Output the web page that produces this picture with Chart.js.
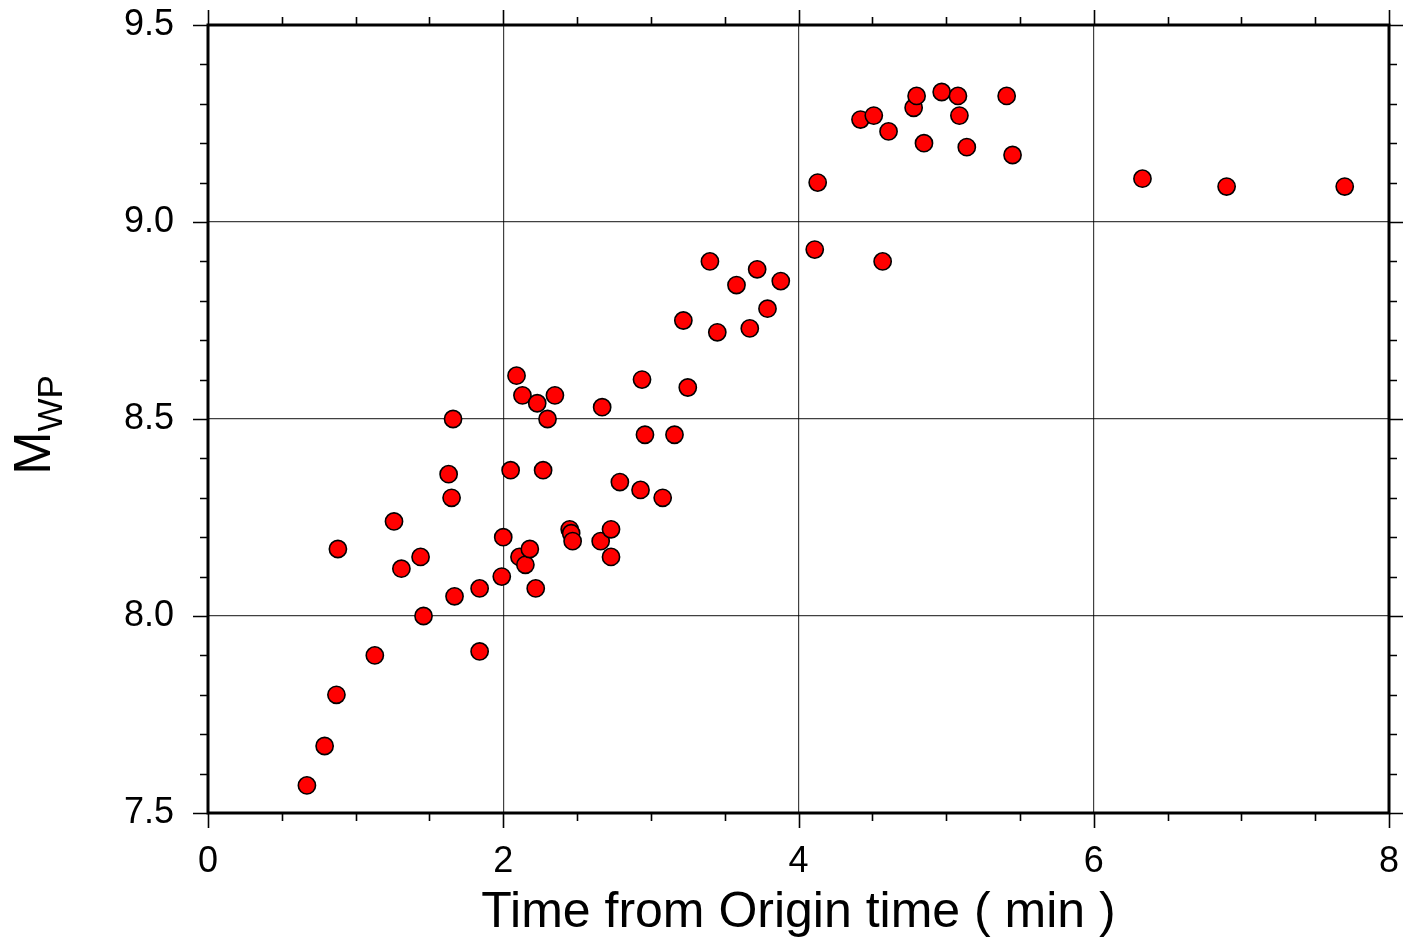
<!DOCTYPE html>
<html>
<head>
<meta charset="utf-8">
<script src="https://cdn.jsdelivr.net/npm/chart.js@4.4.1/dist/chart.umd.min.js"></script>
<style>
  html, body { margin: 0; padding: 0; background: #fff; }
  #wrap { width: 1403px; height: 940px; }
</style>
</head>
<body>
<div id="wrap"><canvas id="c" width="1403" height="940"></canvas></div>
<script>
// Mwp estimates versus time after origin (minutes)
const timeMin = [
  0.67, 0.79, 0.87, 0.88, 1.13, 1.26, 1.31, 1.44, 1.46, 1.63,
  1.66, 1.65, 1.67, 1.84, 1.84, 2.00, 1.99, 2.05, 2.09, 2.11,
  2.13, 2.15, 2.18, 2.22, 2.23, 2.27, 2.30, 2.35, 2.45, 2.46,
  2.47, 2.66, 2.67, 2.73, 2.73, 2.79, 2.93, 2.94, 2.96, 3.08,
  3.16, 3.22, 3.25, 3.40, 3.45, 3.58, 3.67, 3.72, 3.79, 3.88,
  4.11, 4.13, 4.42, 4.51, 4.57, 4.61, 4.78, 4.80, 4.85, 4.97,
  5.08, 5.09, 5.14, 5.41, 5.45, 6.33, 6.90, 7.70
];
const mwp = [
  7.57, 7.67, 7.80, 8.17, 7.90, 8.24, 8.12, 8.15, 8.00, 8.36,
  8.50, 8.30, 8.05, 8.07, 7.91, 8.20, 8.10, 8.37, 8.61, 8.15,
  8.56, 8.13, 8.17, 8.07, 8.54, 8.37, 8.50, 8.56, 8.22, 8.21,
  8.19, 8.19, 8.53, 8.22, 8.15, 8.34, 8.32, 8.60, 8.46, 8.30,
  8.46, 8.75, 8.58, 8.90, 8.72, 8.84, 8.73, 8.88, 8.78, 8.85,
  8.93, 9.10, 9.26, 9.27, 8.90, 9.23, 9.29, 9.32, 9.20, 9.33,
  9.32, 9.27, 9.19, 9.32, 9.17, 9.11, 9.09, 9.09
];
const xTicks = [0, 2, 4, 6, 8];
const yTicks = [7.5, 8.0, 8.5, 9.0, 9.5];
const xMinorStep = 0.5;
const yMinorStep = 0.1;

const FONT = '"Liberation Sans", Arial, Helvetica, sans-serif';
const points = timeMin.map((t, i) => ({ x: t, y: mwp[i] }));

// Frame, outward tick marks on all four sides, and axis titles
const framePlugin = {
  id: 'frame',
  afterDraw(chart) {
    const { ctx, chartArea: a, scales: { x, y } } = chart;
    ctx.save();
    ctx.strokeStyle = '#000';
    ctx.lineWidth = 1.6;
    for (let v = x.min; v <= x.max + 1e-9; v += xMinorStep) {
      const px = Math.round(x.getPixelForValue(v)) + 0.5;
      const major = xTicks.some(t => Math.abs(t - v) < 1e-6);
      const len = major ? 15 : 8;
      ctx.beginPath();
      ctx.moveTo(px, a.bottom); ctx.lineTo(px, a.bottom + len);
      ctx.moveTo(px, a.top); ctx.lineTo(px, a.top - len);
      ctx.stroke();
    }
    for (let v = y.min; v <= y.max + 1e-9; v += yMinorStep) {
      const py = Math.round(y.getPixelForValue(v)) + 0.5;
      const major = yTicks.some(t => Math.abs(t - v) < 1e-6);
      const len = major ? 15 : 8;
      ctx.beginPath();
      ctx.moveTo(a.left, py); ctx.lineTo(a.left - len, py);
      ctx.moveTo(a.right, py); ctx.lineTo(a.right + len, py);
      ctx.stroke();
    }
    ctx.lineWidth = 3;
    ctx.strokeRect(a.left, a.top, a.right - a.left, a.bottom - a.top);

    // x title
    ctx.fillStyle = '#000';
    ctx.font = '50px ' + FONT;
    ctx.textAlign = 'center';
    ctx.textBaseline = 'alphabetic';
    ctx.fillText('Time from Origin time ( min )', (a.left + a.right) / 2, 927);

    // y title: M with subscript WP, rotated
    ctx.save();
    ctx.translate(50, (a.top + a.bottom) / 2);
    ctx.rotate(-Math.PI / 2);
    ctx.textAlign = 'left';
    ctx.font = '52px ' + FONT;
    const mW = ctx.measureText('M').width;
    ctx.font = '35px ' + FONT;
    const sW = ctx.measureText('WP').width;
    const start = -(mW + sW) / 2 - 6;
    ctx.font = '52px ' + FONT;
    ctx.fillText('M', start, 0);
    ctx.font = '35px ' + FONT;
    ctx.fillText('WP', start + mW, 12);
    ctx.restore();
    ctx.restore();
  }
};

new Chart(document.getElementById('c'), {
  type: 'scatter',
  data: {
    datasets: [{
      data: points,
      backgroundColor: '#ff0000',
      borderColor: '#000',
      borderWidth: 1.6,
      pointRadius: 8.6,
      pointHoverRadius: 8.6
    }]
  },
  options: {
    responsive: false,
    animation: false,
    events: [],
    layout: { padding: { top: 25, right: 14, left: 0, bottom: 0 } },
    plugins: { legend: { display: false }, tooltip: { enabled: false } },
    scales: {
      x: {
        type: 'linear',
        min: 0, max: 8,
        afterBuildTicks: s => { s.ticks = xTicks.map(v => ({ value: v })); },
        afterFit: s => { s.height = 127; s.paddingLeft = 0; s.paddingRight = 0; },
        grid: { color: 'rgba(0,0,0,0.75)', lineWidth: 1.2, drawTicks: false },
        border: { display: false },
        ticks: {
          padding: 27,
          color: '#000',
          font: { family: FONT, size: 36 },
          callback: v => String(v)
        }
      },
      y: {
        type: 'linear',
        min: 7.5, max: 9.5,
        afterBuildTicks: s => { s.ticks = yTicks.map(v => ({ value: v })); },
        afterFit: s => { s.width = 208; s.paddingTop = 0; s.paddingBottom = 0; },
        grid: { color: 'rgba(0,0,0,0.75)', lineWidth: 1.2, drawTicks: false },
        border: { display: false },
        ticks: {
          padding: 34,
          color: '#000',
          font: { family: FONT, size: 36 },
          callback: v => v.toFixed(1)
        }
      }
    }
  },
  plugins: [framePlugin]
});
</script>
</body>
</html>
